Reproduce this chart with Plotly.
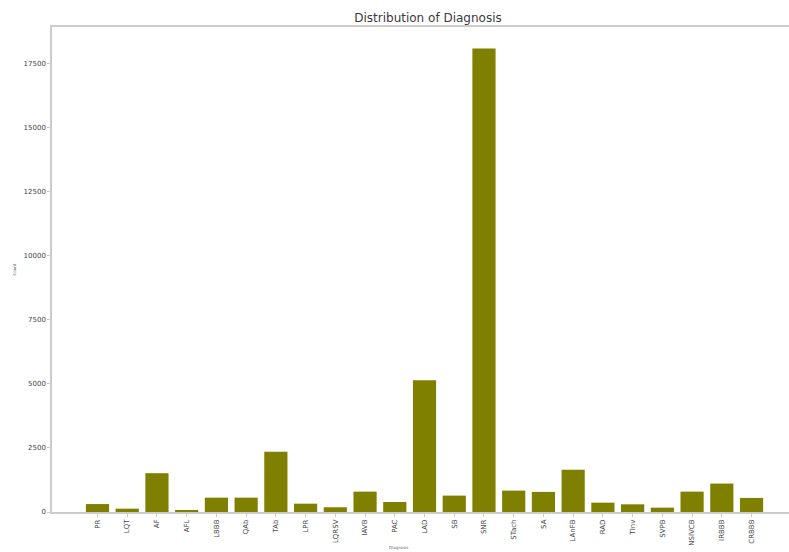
import plotly.graph_objects as go

diagnoses = ["PR", "LQT", "AF", "AFL", "LBBB", "QAb", "TAb", "LPR", "LQRSV", "IAVB",
             "PAC", "LAD", "SB", "SNR", "STach", "SA", "LAnFB", "RAD", "TInv", "SVPB",
             "NSIVCB", "IRBBB", "CRBBB"]
counts = [310, 130, 1515, 80, 560, 560, 2350, 325, 185, 795,
          390, 5140, 640, 18090, 835, 785, 1645, 365, 300, 170,
          795, 1110, 550]
y_ticks = [0, 2500, 5000, 7500, 10000, 12500, 15000, 17500]

fig = go.Figure(go.Bar(
    x=list(range(len(diagnoses))), y=counts,
    marker=dict(color="#808000", line=dict(width=0)),
    width=0.78,
))

axis_color = "#cccccc"
fig.update_layout(
    width=789, height=552,
    margin=dict(l=52, r=0, t=27, b=40, autoexpand=False),
    paper_bgcolor="white", plot_bgcolor="white",
    title=dict(text="Distribution of Diagnosis", x=428 / 789, xanchor="center",
               y=1 - 18 / 552, yanchor="middle",
               font=dict(family="DejaVu Sans", size=12, color="#3a3a3a")),
    showlegend=False,
    font=dict(family="DejaVu Sans", color="#444444"),
    annotations=[
        dict(text="Diagnosis", xref="paper", yref="paper", x=0.47, y=-35 / 485,
             xanchor="center", yanchor="middle", showarrow=False,
             font=dict(size=4, color="#666666")),
        dict(text="Count", xref="paper", yref="paper", x=-38 / 737, y=0.5,
             xanchor="center", yanchor="middle", showarrow=False, textangle=-90,
             font=dict(size=4, color="#666666")),
    ],
)
fig.update_xaxes(
    range=[-1.53, 23.26], automargin=False,
    tickmode="array", tickvals=list(range(len(diagnoses))), ticktext=diagnoses,
    tickangle=-90, tickfont=dict(size=7, color="#444444"),
    showline=True, linecolor=axis_color, linewidth=1.5, mirror=True,
    ticks="outside", ticklen=3, tickcolor=axis_color,
    showgrid=False, zeroline=False,
)
fig.update_yaxes(
    range=[0, 18930], automargin=False,
    tickmode="array", tickvals=y_ticks, ticktext=[str(v) for v in y_ticks],
    tickfont=dict(size=7, color="#444444"),
    showline=True, linecolor=axis_color, linewidth=1.5, mirror=False,
    ticks="outside", ticklen=3, tickcolor=axis_color,
    showgrid=False, zeroline=False,
)

fig.write_html("out.html", config={"displayModeBar": False},
               post_script="document.body.style.margin='0';")
